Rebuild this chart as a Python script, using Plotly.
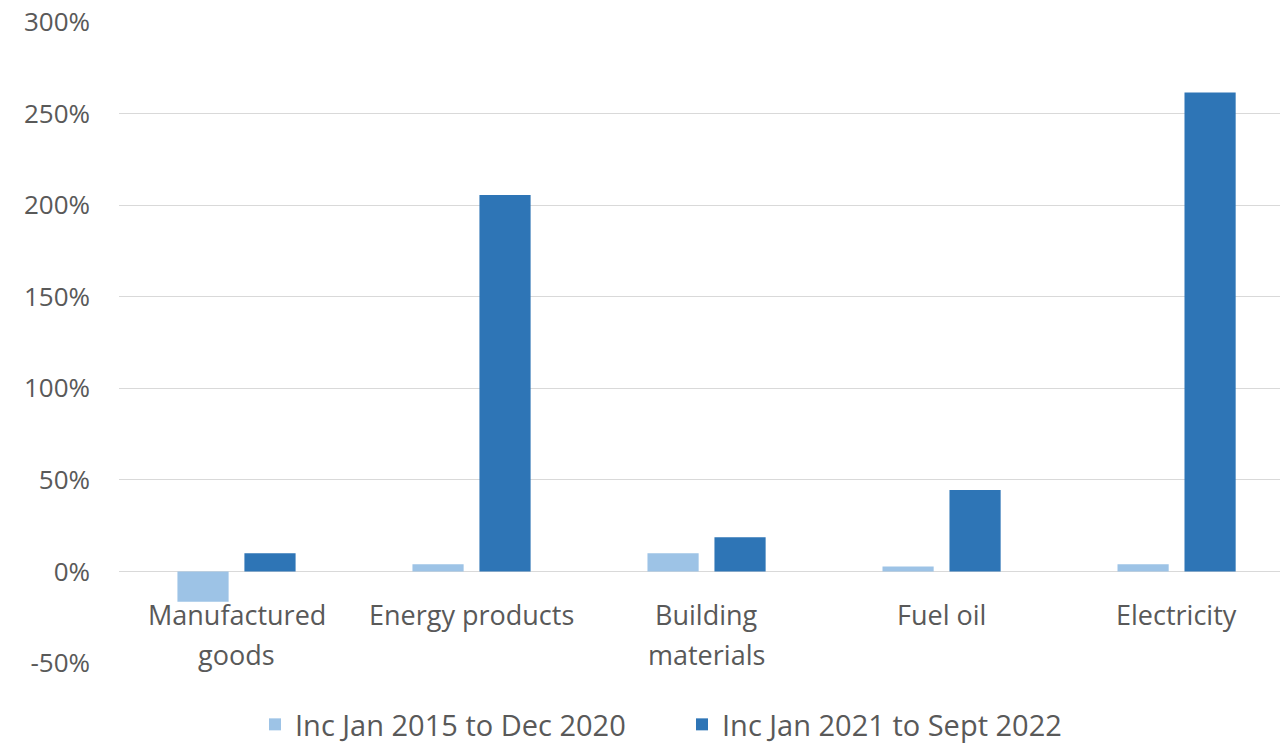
import plotly.graph_objects as go

categories = ["Manufactured<br>goods", "Energy products", "Building<br>materials", "Fuel oil", "Electricity"]
inc_2015_2020 = [-16.5, 4.0, 10.0, 2.7, 4.0]
inc_2021_2022 = [10.0, 205.5, 18.7, 44.5, 261.5]
y_ticks = [-50, 0, 50, 100, 150, 200, 250, 300]
y_tick_labels = ["-50%", "0%", "50%", "100%", "150%", "200%", "250%", "300%"]

text_grey = "#595959"
font_family = "Open Sans, Noto Sans, sans-serif"

fig = go.Figure()
fig.add_trace(go.Bar(x=list(range(len(categories))), y=inc_2015_2020,
                     name="Inc Jan 2015 to Dec 2020", marker_color="#9DC3E6",
                     marker_line_width=0))
fig.add_trace(go.Bar(x=list(range(len(categories))), y=inc_2021_2022,
                     name="Inc Jan 2021 to Sept 2022", marker_color="#2E75B6",
                     marker_line_width=0))

# category labels below the zero line, one annotation per text line
for i, label in enumerate(categories):
    for j, line in enumerate(label.split("<br>")):
        fig.add_annotation(x=i, y=0, xref="x", yref="y", yshift=-43 - 40 * j,
                           text=line, showarrow=False, yanchor="middle",
                           xanchor="center",
                           font=dict(family=font_family, size=27, color=text_grey))

fig.update_layout(
    width=1284, height=750,
    margin=dict(l=119, r=4, t=21, b=86, autoexpand=False),
    paper_bgcolor="white", plot_bgcolor="white",
    barmode="group", bargap=0.43, bargroupgap=0.236,
    showlegend=True,
    legend=dict(orientation="h", x=255 / 1284, xanchor="left", xref="container",
                y=0.0, yanchor="bottom", yref="container",
                font=dict(family=font_family, size=29, color=text_grey),
                itemwidth=30, entrywidth=382, entrywidthmode="pixels",
                tracegroupgap=0),
    xaxis=dict(range=[-0.5, 4.44], showticklabels=False, showgrid=False,
               zeroline=False, showline=False, ticks=""),
    yaxis=dict(range=[-50.5, 300.5], tickvals=y_ticks, ticktext=y_tick_labels,
               tickfont=dict(family=font_family, size=26, color=text_grey),
               showgrid=True, gridcolor="#D9D9D9", gridwidth=1,
               zeroline=True, zerolinecolor="#D9D9D9", zerolinewidth=1,
               showline=False, ticks="", ticklabelstandoff=28),
)

fig.write_html("out.html")
